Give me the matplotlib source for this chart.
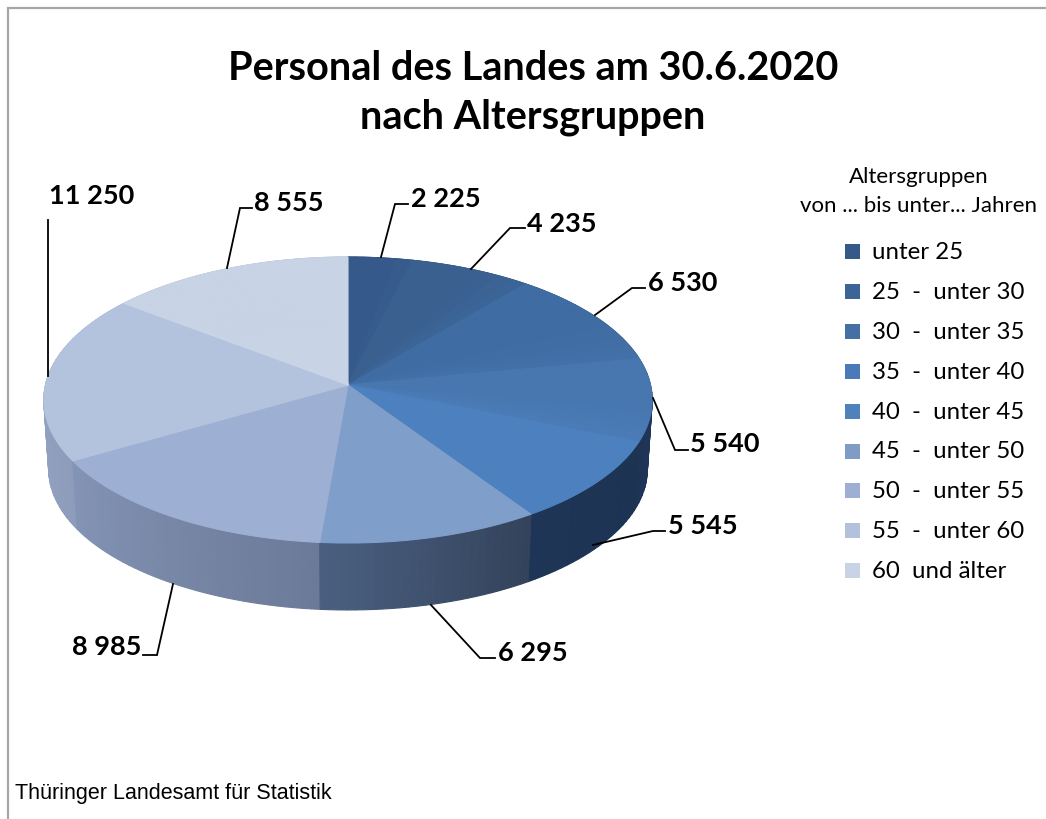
import numpy as np
import matplotlib
matplotlib.use("Agg")
import matplotlib.pyplot as plt
from matplotlib.colors import to_rgb
from matplotlib.patches import Polygon, Rectangle

# --- data ---
groups = ["unter 25", "25  -  unter 30", "30  -  unter 35", "35  -  unter 40", "40  -  unter 45",
          "45  -  unter 50", "50  -  unter 55", "55  -  unter 60", "60  und älter"]
values = [2225, 4235, 6530, 5540, 5545, 6295, 8985, 11250, 8555]
value_labels = ["2 225", "4 235", "6 530", "5 540", "5 545", "6 295", "8 985", "11 250", "8 555"]
title = "Personal des Landes am 30.6.2020\nnach Altersgruppen"
legend_title = "Altersgruppen\nvon ... bis unter... Jahren"
source = "Thüringer Landesamt für Statistik"

# --- style ---
top_colors = ["#34598A", "#3A6090", "#3F6CA2", "#4877B0", "#4C80BE", "#7F9ECA", "#9DB0D3", "#B3C3DE", "#C8D3E6"]
legend_colors = ["#355A88", "#3C6496", "#4570A5", "#4A7AB7", "#4F81BD", "#7F9BC6", "#9DAFD2", "#B3C1DC", "#C9D3E6"]
side_start = ["#1F3859", "#1F3859", "#1F3859", "#1F3A5E", "#1C3352", "#33425A", "#6B7A98", "#8C9CBA", "#A0ADC5"]
side_end = ["#1F3859", "#1F3859", "#1F3859", "#1F3355", "#1E3557", "#4A5F80", "#8494B5", "#9FADC8", "#A0ADC5"]
label_pos = [(411, 199), (527, 224), (648, 283), (690, 444), (668, 526), (498, 653), (72, 647), (49, 196), (254, 203)]
leaders = [
    [(381, 257), (395, 204), (408, 204)],
    [(471, 269), (510, 228), (525, 228)],
    [(595, 315), (632, 288), (645, 288)],
    [(653, 398), (675, 450), (688, 450)],
    [(593, 545), (653, 531), (665, 531)],
    [(431, 605), (480, 658), (495, 658)],
    [(173, 584), (157, 655), (143, 655)],
    [(48, 376), (48, 220)],
    [(227, 268), (240, 208), (252, 208)],
]
CX, CY, A, B, K = 348.0, 385.0, 302.5, 141.4, 0.105
DEPTH, SHRINK = 69.5, 0.984

plt.rcParams["font.family"] = ["Lato", "DejaVu Sans"]
fig = plt.figure(figsize=(10.46, 8.19), dpi=100)
ax = fig.add_axes([0, 0, 1, 1])
ax.set_xlim(0, 1046)
ax.set_ylim(819, 0)
ax.axis("off")


def project(theta, bottom=False):
    """theta: clockwise from 12 o'clock (rad); perspective view of the disc."""
    u, v = np.sin(theta), np.cos(theta)
    w = 1 + K * v
    x, y = CX + A * u / w, CY - B * v / w
    if bottom:
        x = CX + (x - CX) * SHRINK
        y = CY + (y - CY) * SHRINK + DEPTH
    return x, y


def mix(a, b, t):
    a, b = np.array(to_rgb(a)), np.array(to_rgb(b))
    return tuple(a + (b - a) * t)


fractions = np.array(values) / np.sum(values)
edges = np.concatenate([[0], np.cumsum(fractions)]) * 2 * np.pi
STEP = np.radians(3)

# side wall, back to front
strips = []
for i in range(len(values)):
    n = max(2, int((edges[i + 1] - edges[i]) / (STEP / 2)))
    ts = np.linspace(edges[i], edges[i + 1], n + 1)
    for j in range(n):
        strips.append((-np.cos((ts[j] + ts[j + 1]) / 2), ts[j], ts[j + 1],
                       mix(side_start[i], side_end[i], (j + .5) / n)))
for _, t0, t1, col in sorted(strips, key=lambda s: s[0]):
    tt = np.linspace(t0, t1, 4)
    x0, y0 = project(tt)
    x1, y1 = project(tt[::-1], bottom=True)
    ax.add_patch(Polygon(np.c_[np.r_[x0, x1], np.r_[y0, y1]], closed=True, fc=col, ec=col, lw=0.8, zorder=2))

# top face: flat slice, with soft blending into the next slice for the dark group
for i in range(len(values)):
    n = max(3, int((edges[i + 1] - edges[i]) / STEP))
    ts = np.linspace(edges[i], edges[i + 1], n + 1)
    nxt = top_colors[i + 1] if i < 4 else top_colors[i]
    for j in range(n):
        t = (j + .5) / n
        blend = max(0.0, (t - 0.6) / 0.4) * 0.45
        col = mix(top_colors[i], nxt, blend)
        x, y = project(np.linspace(ts[j], ts[j + 1], 4))
        ax.add_patch(Polygon(np.c_[np.r_[CX, x], np.r_[CY, y]], closed=True, fc=col, ec=col, lw=0.8, zorder=3))

# leaders and value labels
for pts, lab, pos in zip(leaders, value_labels, label_pos):
    p = np.array(pts)
    ax.plot(p[:, 0], p[:, 1], color="black", lw=1.3, zorder=4, solid_joinstyle="miter")
    ax.text(pos[0], pos[1], lab, fontsize=19.5, fontweight="bold", ha="left", va="center", color="black", zorder=5)

# title
ax.text(533, 93, title, fontsize=28.5, fontweight="bold", ha="center", va="center", color="black",
        linespacing=1.395)

# legend
ax.text(919, 191.5, legend_title, fontsize=16, ha="center", va="center", color="black", linespacing=1.55)
for i, (g, c) in enumerate(zip(groups, legend_colors)):
    y = 251.5 + i * 39.9
    ax.add_patch(Rectangle((845, y - 7.5), 15, 15, fc=c, ec="none", zorder=3))
    ax.text(872, y + 1, g, fontsize=17.3, ha="left", va="center", color="black")

# footer
ax.text(15, 793, source, fontsize=15.5, ha="left", va="center", color="black", family="Liberation Sans")

# chart frame
ax.plot([8, 8, 1046], [819, 8, 8], color="#A6A6A6", lw=1.6, zorder=1, solid_joinstyle="miter")

fig.savefig("out.png", dpi=100)
